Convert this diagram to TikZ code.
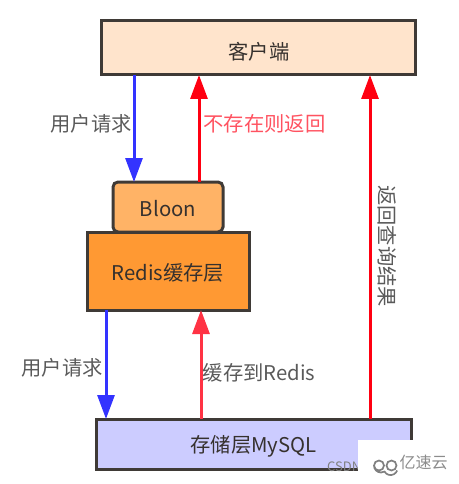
\documentclass[tikz,border=0pt]{standalone}
\usepackage{xcolor}
\usepackage{fontspec}
\setmainfont{Noto Sans CJK SC}
\usetikzlibrary{
  arrows.meta,
  positioning,
  calc
}
\definecolor{borda}{HTML}{3F3A36}
\definecolor{texto}{HTML}{5A5A5A}
\definecolor{azul}{HTML}{3333FF}
\definecolor{vermelho}{HTML}{FF0011}
\definecolor{vermelhoclaro}{HTML}{FF3344}
\definecolor{pele}{HTML}{FFE4CC}
\definecolor{laranjaclaro}{HTML}{FFB366}
\definecolor{laranja}{HTML}{FF9933}
\definecolor{lilas}{HTML}{CCCCFF}

\begin{document}
\begin{tikzpicture}[
    x=1pt,y=-1pt,
    caixa/.style={
    draw=borda,
    line width=3pt,
    outer sep=0pt,
    inner sep=0pt
    },
    rotulo/.style={
    font=\fontsize{20.3pt}{22pt}\selectfont,
    text=texto,
    inner sep=0pt
    },
    dentro/.style={
    rotulo,
    text=borda!85!black
    },
    seta/.style={-{Triangle[length=24pt,width=17pt]},line width=3pt},
    marca/.style={text=gray!90}
    ]
    \useasboundingbox (0,0) rectangle (458,484);
    
    \node[caixa,fill=pele,minimum width=314pt,minimum height=54pt] (cliente) at (258,48) {};
    \node[caixa,fill=laranjaclaro,rounded corners=5pt,minimum width=110pt,minimum height=50pt] (bloon) at (168,207) {};
    \node[caixa,fill=laranja,minimum width=162pt,minimum height=78pt] (redis) at (168,271) {};
    \node[caixa,fill=lilas,minimum width=315pt,minimum height=50pt] (mysql) at (253.5,444) {};
    
    \node[dentro] (tcliente) at (259,52) {客户端};
    \node[dentro] (tbloon) at (168,209) {Bloon};
    \node[dentro] (tredis) at (168,273) {Redis缓存层};
    \node[dentro] (tmysql) at (253.5,446) {存储层MySQL};
    
    \coordinate (pedido1) at (134,0);
    \coordinate (volta1) at (199,0);
    \coordinate (pedido2) at (106,0);
    \coordinate (cache) at (201,0);
    \coordinate (volta2) at (370,0);
    
    \draw[seta,azul] (cliente.south -| pedido1)--(bloon.north -| pedido1);
    \draw[seta,vermelho] (bloon.north -| volta1)--(cliente.south -| volta1);
    \draw[seta,azul] (redis.south -| pedido2)--(mysql.north -| pedido2);
    \draw[seta,vermelhoclaro] (mysql.north -| cache)--(redis.south -| cache);
    \draw[seta,vermelho] (mysql.north -| volta2)--(cliente.south -| volta2);
    
    \node[rotulo] (lpedido1) at (91,124) {用户请求};
    \node[rotulo,text=vermelhoclaro!85!white] (lvolta1) at (264.5,124) {不存在则返回};
    \node[rotulo] (lpedido2) at (62,368) {用户请求};
    \node[rotulo] (lcache) at (259,373) {缓存到Redis};
    \node[rotulo,rotate=-90] (lvolta2) at (387,246) {返回查询结果};
    
    % marca
    \node[text=gray,font=\fontsize{13pt}{14pt}\selectfont,inner sep=0pt,anchor=west] (csdn) at (327,467) {CSDN};
    \fill[white] (358,440) rectangle (458,484);
    \draw[gray,line width=1.7pt] (379,465.5) circle (5) (391.5,465.5) circle (5)
      (374,465.5) arc (180:60:7) arc (150:20:7);
    \node[marca,font=\fontsize{16pt}{17pt}\selectfont,inner sep=0pt] (yisu) at (423.5,462) {亿速云};
    
    \end{tikzpicture}
\end{document}
